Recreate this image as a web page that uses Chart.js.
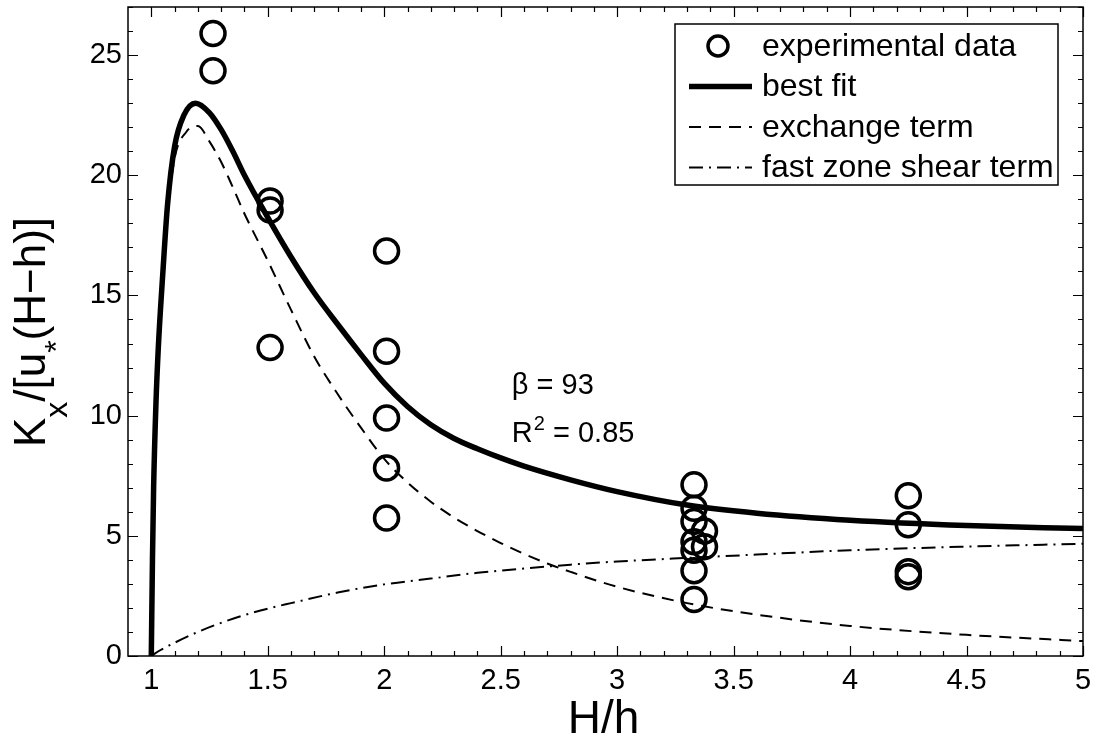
<!DOCTYPE html>
<html>
<head>
<meta charset="utf-8">
<script src="https://cdn.jsdelivr.net/npm/chart.js@4.4.1/dist/chart.umd.min.js"></script>
<style>
  html, body { margin: 0; padding: 0; background: #fff; }
  #wrap { width: 1095px; height: 738px; }
</style>
</head>
<body>
<div id="wrap"><canvas id="kx" width="1095" height="738"></canvas></div>
<script>
const FONT = "'Liberation Sans', Arial, Helvetica, sans-serif";

// axis ticks (labelled)
const xTicks = [1, 1.5, 2, 2.5, 3, 3.5, 4, 4.5, 5];
const yTicks = [0, 5, 10, 15, 20, 25];

// experimental data (circles)
const obsX = [1.265, 1.265, 1.51, 1.51, 1.51, 2.01, 2.01, 2.01, 2.01, 2.01,
              3.33, 3.33, 3.33, 3.33, 3.33, 3.33, 3.33, 3.375, 3.375,
              4.25, 4.25, 4.25, 4.25];
const obsY = [25.9, 24.35, 18.93, 18.55, 12.83, 16.85, 12.68, 9.9, 7.82, 5.74,
              7.12, 6.15, 5.6, 4.75, 4.4, 3.55, 2.35, 5.2, 4.55,
              6.67, 5.46, 3.51, 3.3];

// best fit (thick line)
const fitX = [1.0, 1.005, 1.01, 1.02, 1.03, 1.05, 1.07, 1.1, 1.14, 1.19, 1.25, 1.3, 1.35, 1.4,
              1.5, 1.6, 1.7, 1.8, 1.9, 2.0, 2.1, 2.2, 2.3, 2.4, 2.5, 2.6, 2.8, 3.0, 3.3, 3.6, 4.0, 4.5, 5.0];
const fitY = [0, 4, 7, 10.5, 12.8, 16.0, 18.8, 21.2, 22.5, 23.0, 22.6, 21.9, 21.0, 20.0,
              18.25, 16.6, 15.1, 13.8, 12.55, 11.35, 10.38, 9.62, 9.05, 8.62, 8.24, 7.9, 7.33, 6.84, 6.28, 5.94, 5.65, 5.43, 5.3];

// exchange term (dashed)
const exchX = [1.0, 1.005, 1.01, 1.02, 1.03, 1.05, 1.07, 1.1, 1.15, 1.2, 1.25, 1.3, 1.35, 1.4,
               1.5, 1.6, 1.7, 1.8, 1.9, 2.0, 2.1, 2.2, 2.3, 2.4, 2.5, 2.6, 2.7, 2.8, 3.0, 3.3, 3.6, 4.0, 4.5, 5.0];
const exchY = [0, 3.9, 6.9, 10.3, 12.5, 15.7, 18.4, 20.7, 21.8, 22.05, 21.4, 20.55, 19.5, 18.4,
               16.45, 14.4, 12.45, 10.9, 9.5, 8.2, 7.22, 6.42, 5.76, 5.2, 4.7, 4.25, 3.85, 3.5, 2.88, 2.2, 1.72, 1.25, 0.88, 0.62];

// fast zone shear term (dash-dot)
const shearX = [1.0, 1.04, 1.1, 1.2, 1.3, 1.4, 1.5, 1.6, 1.8, 2.0, 2.2, 2.4, 2.6, 2.8, 3.0, 3.3, 3.6, 4.0, 4.5, 5.0];
const shearY = [0, 0.25, 0.55, 1.0, 1.38, 1.7, 1.97, 2.2, 2.64, 2.98, 3.22, 3.46, 3.64, 3.8, 3.93, 4.08, 4.22, 4.4, 4.55, 4.67];

const legendLabels = ['experimental data', 'best fit', 'exchange term', 'fast zone shear term'];
const betaText = '\u03B2 = 93';
const r2Text = ' = 0.85';

const pts = (xs, ys) => xs.map((x, i) => ({ x: x, y: ys[i] }));

const DASH = [12, 8];
const DASHDOT = [14, 6, 2, 6];

// frame, inward ticks, legend, notes and axis titles
const decorations = {
  id: 'decorations',
  beforeDraw(chart) {
    const ctx = chart.ctx;
    ctx.save();
    ctx.fillStyle = '#fff';
    ctx.fillRect(0, 0, chart.width, chart.height);
    ctx.restore();
  },
  afterDraw(chart) {
    const { ctx, chartArea: a, scales: { x, y } } = chart;
    ctx.save();
    ctx.strokeStyle = '#000';
    ctx.fillStyle = '#000';

    // box
    ctx.lineWidth = 1.5;
    ctx.strokeRect(a.left, a.top, a.right - a.left, a.bottom - a.top);

    // ticks pointing inward on all four sides
    ctx.lineWidth = 1.2;
    ctx.beginPath();
    for (let i = 10; i <= 50; i++) {
      const v = i / 10;
      const px = Math.round(x.getPixelForValue(v)) + 0.5;
      const len = xTicks.includes(v) ? 10 : 5;
      ctx.moveTo(px, a.bottom); ctx.lineTo(px, a.bottom - len);
      ctx.moveTo(px, a.top); ctx.lineTo(px, a.top + len);
    }
    for (let j = 0; j <= 27; j++) {
      const py = Math.round(y.getPixelForValue(j)) + 0.5;
      const len = yTicks.includes(j) ? 10 : 5;
      ctx.moveTo(a.left, py); ctx.lineTo(a.left + len, py);
      ctx.moveTo(a.right, py); ctx.lineTo(a.right - len, py);
    }
    ctx.stroke();

    // legend
    const lx = a.right - 408, ly = a.top + 17, lw = 383, lh = 161;
    ctx.fillStyle = '#fff';
    ctx.fillRect(lx, ly, lw, lh);
    ctx.lineWidth = 1.5;
    ctx.strokeRect(lx, ly, lw, lh);
    ctx.fillStyle = '#000';
    ctx.font = '32px ' + FONT;
    ctx.textBaseline = 'middle';
    ctx.textAlign = 'left';
    legendLabels.forEach((label, k) => {
      const ry = ly + 22 + k * 40.5;
      const x0 = lx + 14, x1 = lx + 77;
      ctx.beginPath();
      if (k === 0) {
        ctx.lineWidth = 3.5;
        ctx.setLineDash([]);
        ctx.arc(lx + 43, ry, 10, 0, Math.PI * 2);
      } else {
        ctx.lineWidth = k === 1 ? 5.5 : 2;
        ctx.setLineDash(k === 1 ? [] : (k === 2 ? DASH : DASHDOT));
        ctx.moveTo(x0, ry); ctx.lineTo(x1, ry);
      }
      ctx.stroke();
      ctx.setLineDash([]);
      ctx.fillText(label, lx + 87, ry + 1);
    });

    // fit parameters
    ctx.textBaseline = 'alphabetic';
    ctx.font = '29px ' + FONT;
    const nx = x.getPixelForValue(2.548);
    ctx.fillText(betaText, nx, y.getPixelForValue(10.88));
    const rBase = y.getPixelForValue(8.92);
    ctx.fillText('R', nx, rBase);
    let cx = nx + ctx.measureText('R').width + 1;
    ctx.font = '20px ' + FONT;
    ctx.fillText('2', cx, rBase - 12);
    cx += ctx.measureText('2').width;
    ctx.font = '29px ' + FONT;
    ctx.fillText(r2Text, cx, rBase);

    // x title
    ctx.font = '46px ' + FONT;
    ctx.textAlign = 'center';
    ctx.fillText('H/h', (a.left + a.right) / 2 - 2, 733);

    // y title, rotated, with subscripts
    const pieces = [['K', 44, 0], ['x', 32, 22], ['/[u', 44, 0], ['*', 32, 22], ['(H\u2212h)]', 44, 0]];
    ctx.translate(45, 332);
    ctx.rotate(-Math.PI / 2);
    ctx.textAlign = 'left';
    let total = 0;
    pieces.forEach(p => { ctx.font = p[1] + 'px ' + FONT; total += ctx.measureText(p[0]).width; });
    let tx = -total / 2;
    pieces.forEach(p => {
      ctx.font = p[1] + 'px ' + FONT;
      ctx.fillText(p[0], tx, p[2]);
      tx += ctx.measureText(p[0]).width;
    });
    ctx.restore();
  }
};

new Chart(document.getElementById('kx'), {
  type: 'line',
  data: {
    datasets: [
      {
        label: legendLabels[0],
        data: pts(obsX, obsY),
        showLine: false,
        pointStyle: 'circle',
        pointRadius: 12,
        pointHoverRadius: 12,
        pointBorderWidth: 3.5,
        pointBackgroundColor: 'rgba(0,0,0,0)',
        pointBorderColor: '#000'
      },
      {
        label: legendLabels[1],
        data: pts(fitX, fitY),
        borderColor: '#000',
        borderWidth: 5.5,
        pointRadius: 0,
        cubicInterpolationMode: 'monotone',
        fill: false
      },
      {
        label: legendLabels[2],
        data: pts(exchX, exchY),
        borderColor: '#000',
        borderWidth: 2,
        borderDash: DASH,
        pointRadius: 0,
        cubicInterpolationMode: 'monotone',
        fill: false
      },
      {
        label: legendLabels[3],
        data: pts(shearX, shearY),
        borderColor: '#000',
        borderWidth: 2,
        borderDash: DASHDOT,
        pointRadius: 0,
        cubicInterpolationMode: 'monotone',
        fill: false
      }
    ]
  },
  options: {
    responsive: false,
    animation: false,
    devicePixelRatio: 1,
    layout: { autoPadding: false, padding: { top: 7, right: 12, left: 0, bottom: 0 } },
    plugins: { legend: { display: false }, tooltip: { enabled: false } },
    scales: {
      x: {
        type: 'linear',
        min: 0.9,
        max: 5,
        grid: { display: false, drawTicks: false },
        border: { display: false },
        ticks: {
          autoSkip: false,
          maxRotation: 0,
          color: '#000',
          padding: 8,
          font: { family: FONT, size: 29 },
          callback: v => String(v)
        },
        afterBuildTicks: s => { s.ticks = xTicks.map(v => ({ value: v })); },
        afterFit: s => { s.height = 82; s.paddingLeft = 0; s.paddingRight = 0; }
      },
      y: {
        type: 'linear',
        min: 0,
        max: 27,
        grid: { display: false, drawTicks: false },
        border: { display: false },
        ticks: {
          autoSkip: false,
          color: '#000',
          padding: 6,
          font: { family: FONT, size: 29 },
          callback: v => String(v)
        },
        afterBuildTicks: s => { s.ticks = yTicks.map(v => ({ value: v })); },
        afterFit: s => { s.width = 128; s.paddingTop = 0; s.paddingBottom = 0; }
      }
    }
  },
  plugins: [decorations]
});
</script>
</body>
</html>
